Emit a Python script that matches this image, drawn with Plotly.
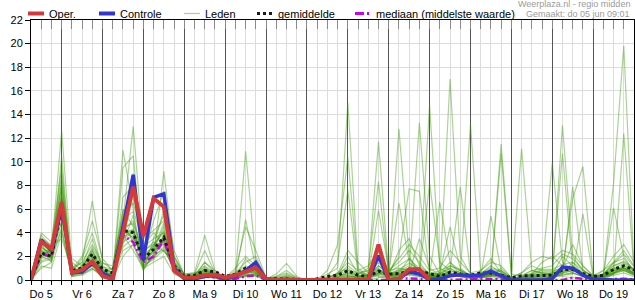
import pandas as pd
import plotly.graph_objects as go

# ---------------- data ----------------
start = "2025-06-05 06:00"
n_steps = 60
day_labels = ["Do 5", "Vr 6", "Za 7", "Zo 8", "Ma 9", "Di 10", "Wo 11", "Do 12",
              "Vr 13", "Za 14", "Zo 15", "Ma 16", "Di 17", "Wo 18", "Do 19"]

oper = [0, 3.26, 2.63, 6.57, 0.62, 0.85, 1.56, 0.34, 0.05, 4.0, 7.9, 3.7,
        6.9, 6.2, 0.8, 0.2, 0.2, 0.4, 0.45, 0.2, 0.4, 0.7, 1.05, 0.1,
        0, 0, 0, 0, 0, 0, 0, 0, 0, 0, 3.0, 0, 0.1, 0.9, 0.9, 0]

controle = [0, 3.4, 2.5, 6.3, 0.6, 0.7, 1.4, 0.6, 0.1, 4.4, 8.9, 1.7,
            7.0, 7.3, 1.0, 0.1, 0.1, 0.3, 0.4, 0.15, 0.3, 0.8, 1.5, 0.05,
            0, 0, 0, 0, 0, 0, 0, 0, 0, 0, 2.05, 0, 0.1, 0.7, 0.5, 0.05,
            0.1, 0.35, 0.45, 0.35, 0.4, 0.75, 0.35, 0, 0, 0, 0, 0.1,
            1.1, 1.0, 0.4, 0.05, 0, 0, 0, 0]

gemiddelde = [0, 2.3, 2.0, 6.2, 0.8, 1.0, 2.2, 0.9, 0.6, 4.2, 4.0, 1.8,
              2.6, 3.6, 1.2, 0.3, 0.4, 0.8, 0.7, 0.3, 0.5, 1.0, 1.1, 0.1,
              0.1, 0.1, 0.05, 0.0, 0.1, 0.3, 0.4, 0.8, 0.4, 0.3, 0.75, 0.5,
              0.55, 0.7, 0.75, 0.55, 0.3, 0.65, 0.5, 0.4, 0.6, 0.6, 0.4, 0.2,
              0.35, 0.35, 0.35, 0.4, 0.85, 0.9, 0.55, 0.3, 0.4, 0.9, 1.2, 0.85]

mediaan = [0, 2.2, 2.0, 6.0, 0.7, 0.8, 1.4, 0.3, 0.1, 3.8, 3.2, 1.5,
           2.0, 3.4, 0.8, 0.1, 0.1, 0.3, 0.2, 0.05, 0.1, 0.3, 0.4, 0,
           0, 0, 0, 0, 0, 0, 0, 0, 0, 0, 0, 0,
           0.15, 0.15, 0.1, 0, 0, 0.05, 0.05, 0.05, 0.1, 0.1, 0.05, 0,
           0, 0, 0, 0, 0, 0.2, 0.1, 0, 0.05, 0.1, 0.1, 0.05]

leden = [
    [0,2.2,1.8,6.0, 0.6,0.9,2.0,0.8, 0.4,4.0,4.2,1.5, 2.4,3.4,1.0,0.2, 0.3,1.0,0.4,0.1, 0.6,1.2,0.9,0, 0,0,0,0, 0,0.2,0.6,1.0, 0.3,0.2,0.8,0.4, 0.6,0.9,0.7,0.3, 0.2,0.5,0.3,0.2, 0.4,0.5,0.3,0, 0.2,0.3,0.1,0.2, 0.8,0.9,0.4,0.2, 0.3,0.8,1.0,0.5],
    [0,3.0,2.5,12.6, 1.2,0.5,1.0,0.3, 0.5,5.0,13.0,2.5, 3.0,4.0,1.5,0.3, 0.2,0.5,0.2,0, 0.5,10.9,1.5,0, 0.2,0.5,0.1,0, 0,0.5,1.0,15.0, 1.0,0.3,1.2,0.5, 0.8,1.0,0.5,0.2, 0,0.3,0.5,0.2, 0,0,0.2,0, 0.3,0.5,0.2,0.4, 1.0,0.6,0.3,0, 0,0.5,1.2,0.8],
    [0,1.8,2.2,8.5, 0.8,1.5,6.7,1.5, 0.8,3.0,5.5,1.0, 2.0,9.2,2.0,0.4, 0.5,2.5,0.6,0.2, 1.0,2.0,1.2,0.1, 0.5,1.4,0.3,0, 0,0,0.3,2.0, 0.5,0.8,11.7,0.6, 2.0,7.7,7.5,0.5, 0.2,0.4,0.8,0.3, 0.2,0.5,0.4,0, 0,0,0.2,0.3, 0.6,1.5,0.5,0.2, 0.4,1.0,0.8,0.4],
    [0,2.6,1.5,10.5, 0.4,0.6,1.8,0.5, 0.3,11.0,6.0,3.0, 4.0,3.0,0.9,0.1, 0.1,0.3,0.2,0, 0.2,0.8,1.5,0, 0,0,0,0, 0,0.8,3.0,10.4, 0.8,0.2,0.6,0.3, 12.8,2.0,0.5,0.2, 0.5,1.0,0.4,0.2, 0.5,1.2,0.6,0.1, 0,0.3,0.5,0.4, 0.3,0.2,0.1,0, 0.2,0.6,0.9,0.5],
    [0,3.8,2.8,9.0, 0.5,1.0,2.5,0.6, 1.0,6.0,4.5,0.8, 3.5,5.5,1.5,0.5, 0.6,0.8,0.3,0.1, 0.4,0.6,0.6,0, 0,0.2,0,0, 0,0,0.2,0.6, 0.3,0.5,1.5,0.3, 0.5,0.8,13.3,2.0, 0.5,1.2,0.8,0.3, 0.2,0.3,1.0,0.2, 0,0.5,1.5,2.0, 1.2,0.8,0.4,0.2, 0.5,1.5,2.5,1.2],
    [0,1.2,1.0,4.0, 0.3,0.5,1.0,0.2, 0.1,2.0,3.0,1.2, 2.0,3.5,0.6,0.1, 0.2,0.4,0.2,0, 0.3,5.1,1.0,0.1, 0.3,0.6,0.2,0, 0,0,0.1,0.3, 0.2,0.5,0.3,0.1, 0.4,0.5,0.3,14.8, 1.0,0.5,0.3,0.2, 0.3,0.8,0.5,0, 0,0,0,0.3, 13.1,2.0,0.8,0.3, 0.2,0.5,0.8,0.5],
    [0,2.0,2.5,7.0, 1.5,0.8,2.8,1.2, 0.5,4.5,3.5,2.0, 1.8,2.5,1.2,0.2, 0.4,1.5,0.8,0.1, 0.5,0.5,0.4,0, 0,0,0,0, 0,0,0,0, 0,0,0.5,0.8, 1.5,2.5,1.5,0.4, 6.6,1.5,0.5,0.2, 0.8,1.8,0.6,0, 0.4,0.8,0.6,0.5, 2.0,1.2,0.6,0.1, 0.3,0.6,1.0,0.6],
    [0,2.8,2.0,7.5, 0.4,1.2,3.5,0.9, 0.2,9.5,10.5,1.5, 2.5,4.5,0.8,0.2, 0.3,0.8,0.4,0.1, 0.2,1.8,0.8,0, 0,0,0.1,0, 0,0.3,1.5,7.6, 0.5,1.0,8.3,0.5, 0.5,0.4,0.3,0.2, 0.3,17.0,2.0,0.5, 0.2,0.3,0.2,0, 0,0,0.3,0.2, 0.5,0.6,0.3,0.1, 0.2,0.4,0.6,0.3],
    [0,1.5,1.8,5.0, 0.6,0.9,1.2,0.5, 0.3,3.5,4.0,1.8, 3.0,3.2,1.0,0.3, 0.2,0.6,0.3,0, 0.1,0.4,0.6,0, 0.1,0.3,0,0, 0,0,0,0.2, 0.3,0.2,0.6,0.4, 0.8,1.2,0.8,0.5, 0.4,0.8,7.9,0.6, 0.3,0.5,0.8,0.2, 0.6,1.2,0.8,9.9, 1.5,0.8,0.5,0.2, 0.8,1.5,1.8,0.8],
    [0,3.2,2.2,6.5, 0.9,0.6,1.5,0.3, 0.2,4.2,5.0,2.2, 2.8,6.0,1.8,0.4, 0.5,1.2,0.5,0.2, 0.8,4.5,2.5,0.2, 0.2,0.3,0.1,0, 0,0,0.2,0.8, 0.4,0.3,5.9,0.8, 1.0,0.8,0.4,8.2, 1.5,0.8,0.5,13.2, 0.6,0.4,0.3,0, 0.2,0.4,0.5,0.3, 0.4,0.6,0.3,0.2, 0.2,0.5,12.4,0.8],
    [0,2.4,2.6,7.0, 0.7,1.8,4.0,1.0, 0.6,3.8,2.5,1.0, 1.5,2.0,0.5,0.1, 0.1,0.3,0.2,0, 0.2,0.3,0.5,0, 0,0,0,0, 0,0,0,0.3, 0.2,0.4,0.7,0.5, 0.6,1.8,0.8,0.3, 0.3,0.6,0.4,0.2, 0.4,0.6,11.5,0.5, 0.3,0.2,0.1,0.2, 0.6,0.8,0.5,0.2, 0.5,1.2,1.5,0.9],
    [0,1.0,1.5,4.5, 0.3,0.4,0.9,0.6, 0.4,2.5,3.0,0.8, 2.2,3.8,1.4,0.2, 0.3,0.5,0.3,0.1, 0.4,0.6,1.0,0, 0,0.2,0,0, 0,0,0.4,1.2, 0.5,0.6,1.0,0.3, 0.4,0.6,0.5,0.3, 0.5,0.5,0.4,0.3, 0.2,0.5,10.7,0.3, 0,0.2,0.4,0.6, 10.7,1.0,0.5,0.1, 0.3,0.6,0.8,0.4],
    [0,3.5,3.0,8.0, 1.0,1.5,3.0,1.4, 1.2,5.5,7.0,2.8, 3.5,4.0,1.2,0.3, 0.4,0.9,0.5,0.1, 0.3,0.8,0.6,0, 0,0.1,0,0, 0,0.2,0.5,0.8, 0.6,0.8,1.8,0.6, 6.5,1.5,0.8,0.4, 0.6,1.5,0.8,0.4, 0.3,0.4,0.5,0, 11.1,0.8,0.6,0.4, 0.5,7.9,0.8,0.3, 0.4,0.8,1.0,0.6],
    [0,2.0,1.6,6.0, 0.5,0.7,1.8,0.7, 0.3,3.2,3.8,1.5, 2.6,3.0,1.1,0.2, 0.3,1.5,0.6,0.1, 0.2,0.5,0.8,0, 0,0,0,0, 0,0,0,0.1, 0.1,0.2,0.5,0.3, 0.4,0.6,0.5,0.3, 0.2,0.4,0.3,0.1, 0.3,5.4,0.8,0.1, 0,0.2,0.4,0.5, 0.8,6.9,9.6,0.4, 0.3,0.6,0.9,0.5],
    [0,4.0,3.2,9.5, 0.8,1.0,2.2,0.6, 0.5,7.0,8.0,2.0, 5.0,7.5,2.5,0.4, 0.3,0.7,0.4,0.1, 0.2,0.4,0.3,0, 0,0,0,0, 0,0,0,0, 0,0,0.2,0.3, 0.3,0.5,0.4,0.2, 0.3,0.5,0.3,0.2, 0.2,0.3,0.2,0, 0,0,0.1,0.2, 0.4,0.5,5.6,0.2, 0.3,8.2,19.8,1.0],
    [0,2.2,2.4,5.5, 0.6,0.8,1.6,0.5, 0.4,3.6,4.2,1.6, 2.3,3.3,0.9,0.2, 0.2,0.6,0.3,0.1, 0.3,0.6,0.7,0, 0,0,0,0, 0,0,0.3,0.6, 0.4,0.3,0.9,0.5, 0.7,1.0,0.6,0.4, 0.3,0.8,0.5,0.3, 0.5,0.9,0.7,0.1, 0.2,0.5,0.8,0.8, 1.0,1.2,0.6,0.2, 0.4,6.1,2.0,0.7],
    [0,1.6,2.0,4.2, 0.4,0.6,1.2,0.4, 0.3,4.8,3.2,1.1, 1.9,2.8,0.7,0.1, 0.2,0.4,0.2,0, 0.2,0.4,0.5,0, 0,0,0,0, 0,0,0,0, 0,0,0,0, 0,0,0,0, 0,0,0,0, 0,0,0,0, 0,0,0,0, 0,0,0,0, 0,0,0,0],
    [0,2.9,2.1,7.2, 0.7,1.1,2.4,0.8, 0.6,4.4,4.8,1.9, 2.9,4.2,1.3,0.3, 0.3,0.8,0.4,0.1, 0.4,0.9,0.9,0.1, 0.1,0.2,0,0, 0,0,0.2,0.5, 0.3,0.4,1.2,0.5, 0.9,1.4,0.9,0.6, 0.5,1.0,0.6,0.4, 0.3,0.6,0.5,0.1, 0.3,0.6,0.9,0.9, 1.3,1.5,0.8,0.3, 0.5,1.2,1.6,0.9],
    [0,3.3,2.9,3.5, 0.9,2.0,5.0,1.8, 0.8,5.8,6.5,3.5, 4.2,5.0,2.0,0.5, 0.6,3.8,0.8,0.2, 0.6,1.5,2.0,0.1, 0.3,0.8,0.2,0, 0,0.1,0.6,1.5, 0.8,1.2,2.5,0.8, 1.8,3.0,2.0,0.8, 1.0,2.5,1.5,0.6, 0.8,1.5,1.2,0.2, 0.6,1.5,2.0,1.8, 2.5,2.2,1.2,0.4, 0.8,2.0,3.0,1.5],
    [0,2.3,1.9,6.3, 0.5,0.9,1.9,0.6, 0.4,3.9,4.3,1.7, 2.5,3.6,1.1,0.2, 0.2,0.7,0.3,0.1, 0.3,0.7,0.8,0, 0,0.1,0,0, 0,0,0.1,0.4, 0.2,0.3,0.8,0.4, 0.5,0.8,0.6,0.3, 0.4,0.6,0.4,0.2, 0.3,0.5,0.4,0.1, 0.2,0.4,0.6,0.6, 0.9,1.0,0.5,0.2, 0.3,0.9,1.2,0.7],
    [0,2.7,2.3,5.0, 1.8,1.2,2.6,0.9, 0.7,2.8,3.5,2.4, 3.2,2.4,1.6,0.3, 0.4,1.1,0.5,0.1, 0.5,1.0,0.7,0, 0,0.4,0.1,0, 0,0,0.5,2.5, 1.5,0.6,0.9,0.4, 2.5,3.5,1.2,0.5, 0.8,1.2,0.9,0.4, 0.6,1.0,0.8,0.1, 0.3,0.8,1.0,1.2, 2.2,1.8,0.9,0.2, 0.5,1.4,2.2,1.1],
    [0,1.9,2.7,6.8, 0.6,0.5,1.4,1.1, 0.9,5.2,5.8,1.3, 1.7,3.9,0.8,0.1, 0.1,0.5,0.2,0, 0.1,0.3,0.4,0, 0,0,0,0, 0,0,0,0, 0,0.2,0.4,0.2, 0.3,0.6,3.5,1.0, 0.4,0.6,0.3,0.2, 0.2,0.4,0.3,0, 0,0.2,0.3,0.4, 0.6,0.8,0.4,0.1, 0.2,0.7,1.1,0.6],
    [0,3.1,1.7,5.8, 0.3,1.3,2.1,0.7, 0.5,3.4,9.0,1.4, 2.1,2.6,1.0,0.2, 0.2,0.6,0.3,0.1, 0.2,0.6,0.9,0.1, 0,0.2,0,0, 0,0,0.2,0.4, 0.2,0.5,3.0,0.6, 1.2,1.8,1.0,0.4, 0.6,4.5,1.0,0.3, 0.4,0.7,0.5,0.1, 0.2,0.5,0.7,0.7, 1.0,3.0,1.2,0.3, 0.4,1.0,1.4,0.8],
    [0,2.5,2.1,8.0, 0.7,0.8,1.7,0.5, 0.4,4.1,3.6,1.9, 2.7,4.8,1.2,0.2, 0.3,0.9,0.4,0.1, 0.3,0.7,1.1,0, 0,0,0,0, 0,0,0,0.2, 0.1,0.3,0.6,0.3, 0.5,0.7,0.5,0.2, 0.3,0.5,0.3,0.2, 0.2,0.4,0.3,0, 0.1,0.3,0.4,0.5, 0.7,0.9,0.4,0.1, 0.3,0.8,1.0,0.6],
]

times = pd.date_range(start, periods=n_steps, freq="6h")
noons = pd.date_range("2025-06-05 12:00", periods=len(day_labels), freq="D")
midnights = pd.date_range("2025-06-06 00:00", periods=len(day_labels), freq="D")

# ---------------- styles ----------------
FONT = "Arial, Liberation Sans, sans-serif"
C_OPER = "#d43a3a"
C_CTRL = "#3434d0"
C_LID = "rgba(55,150,0,0.42)"
C_MEAN = "#1a1a1a"
C_MED = "#cc00ee"
SIX_H = 6 * 3600 * 1000

W, H = 635, 300
ML, MR, MT, MB = 31, 1, 20, 20
PW, PH = W - ML - MR, H - MT - MB

def px(xp):
    return (xp - ML) / PW

def py(yp):
    return (H - MB - yp) / PH

fig = go.Figure()

for m in leden:
    fig.add_trace(go.Scatter(x=times[:len(m)], y=m, mode="lines",
                             line=dict(color=C_LID, width=1.2),
                             showlegend=False, hoverinfo="skip"))

fig.add_trace(go.Scatter(x=times, y=mediaan, mode="lines", showlegend=False,
                         line=dict(color=C_MED, width=2.5, dash="7px,3px,2px,3px")))
fig.add_trace(go.Scatter(x=times, y=gemiddelde, mode="lines", showlegend=False,
                         line=dict(color=C_MEAN, width=3, dash="3px,3px")))
fig.add_trace(go.Scatter(x=times[:len(controle)], y=controle, mode="lines", showlegend=False,
                         line=dict(color=C_CTRL, width=3.5)))
fig.add_trace(go.Scatter(x=times[:len(oper)], y=oper, mode="lines", showlegend=False,
                         line=dict(color=C_OPER, width=4)))
# invisible trace so the top (day-line) axis is drawn
fig.add_trace(go.Scatter(x=times, y=gemiddelde, xaxis="x2", mode="lines", opacity=0,
                         showlegend=False, hoverinfo="skip", line=dict(width=0)))

shapes = []
annotations = []
legend_items = [
    ("Oper.", 28, dict(color=C_OPER, width=4)),
    ("Controle", 99, dict(color=C_CTRL, width=4)),
    ("Leden", 184, dict(color="rgba(150,205,120,0.85)", width=1.2)),
    ("gemiddelde", 257, dict(color=C_MEAN, width=3, dash="3px,3px")),
    ("mediaan (middelste waarde)", 355, dict(color=C_MED, width=3, dash="9px,3px,2px,3px")),
]
LEG_Y = 13.5
for label, x0, ln in legend_items:
    shapes.append(dict(type="line", xref="paper", yref="paper",
                       x0=px(x0), x1=px(x0 + 16), y0=py(LEG_Y), y1=py(LEG_Y), line=ln))
    annotations.append(dict(text=label, xref="paper", yref="paper", x=px(x0 + 19), y=py(LEG_Y),
                            xanchor="left", yanchor="middle", showarrow=False,
                            font=dict(family=FONT, size=11, color="#000")))

annotations.append(dict(text="Weerplaza.nl - regio midden", xref="paper", yref="paper",
                        x=px(632), y=py(4), xanchor="right", yanchor="middle", showarrow=False,
                        font=dict(family=FONT, size=9, color="#9a9a9a")))
annotations.append(dict(text="Gemaakt: do 05 jun 09:01", xref="paper", yref="paper",
                        x=px(632), y=py(14), xanchor="right", yanchor="middle", showarrow=False,
                        font=dict(family=FONT, size=9, color="#9a9a9a")))

fig.update_layout(
    width=W, height=H,
    margin=dict(l=ML, r=MR, t=MT, b=MB, pad=0),
    paper_bgcolor="white", plot_bgcolor="white",
    font=dict(family=FONT, size=11, color="#000"),
    showlegend=False,
    shapes=shapes,
    annotations=annotations,
    xaxis=dict(
        type="date", range=[times[0], times[-1]],
        tickvals=list(noons), ticktext=day_labels,
        ticks="outside", ticklen=4, tickcolor="#000", tickwidth=1,
        showgrid=True, gridcolor="#dcdcdc", gridwidth=1,
        minor=dict(tick0=times[0], dtick=SIX_H, showgrid=True, gridcolor="#dcdcdc",
                   gridwidth=1, ticks="outside", ticklen=4, tickcolor="#000"),
        showline=True, linecolor="#000", linewidth=1, mirror=True,
        zeroline=False, tickfont=dict(family=FONT, size=11, color="#000"),
    ),
    xaxis2=dict(
        type="date", overlaying="x", side="top", matches="x",
        tickvals=list(midnights), ticks="inside", ticklen=9, tickcolor="#8a8a8a",
        showticklabels=False, showgrid=True, gridcolor="#555555", gridwidth=1.2,
        minor=dict(tick0=times[0], dtick=SIX_H, ticks="inside", ticklen=9,
                   tickcolor="#8a8a8a", showgrid=False),
        showline=False, zeroline=False,
    ),
    yaxis=dict(
        range=[0, 22], tick0=0, dtick=2,
        ticks="outside", ticklen=5, tickcolor="#000",
        showgrid=True, gridcolor="#dcdcdc", gridwidth=1,
        showline=True, linecolor="#000", linewidth=1, mirror=True,
        zeroline=False, tickfont=dict(family=FONT, size=11, color="#000"),
    ),
)

fig.write_html("out.html")
